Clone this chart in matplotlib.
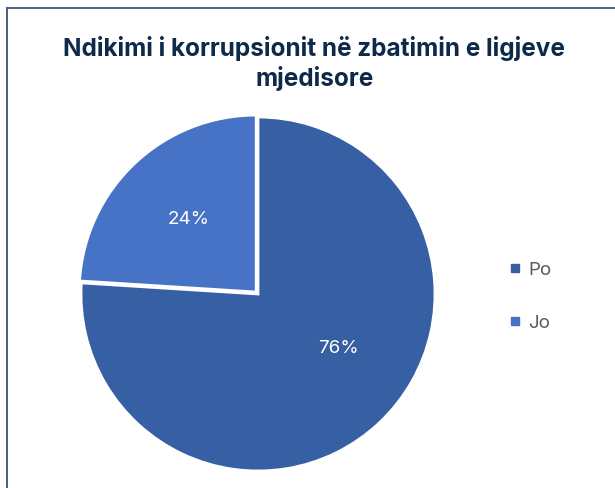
import numpy as np
import matplotlib.pyplot as plt
from matplotlib.lines import Line2D
from matplotlib.patches import Rectangle

plt.rcParams["font.family"] = ["Inter", "DejaVu Sans"]

# data
labels = ["Po", "Jo"]
values = [76, 24]
colors = ["#3660A3", "#4673C5"]
title = "Ndikimi i korrupsionit në zbatimin e ligjeve\nmjedisore"

W, H = 615, 488
fig = plt.figure(figsize=(W / 100, H / 100), dpi=100)

# frame (only top and left edges visible in reference)
fig.patches.append(Rectangle((7 / W, -0.2), 1.2, (H - 8) / H + 0.2,
                             transform=fig.transFigure, fill=False,
                             edgecolor="#4A5E7A", lw=1.4))

cx, cy, r = 258, 294, 177
ax = fig.add_axes([(cx - r) / W, (H - cy - r) / H, 2 * r / W, 2 * r / H])
wedges, texts, autotexts = ax.pie(
    values, colors=colors, startangle=90, counterclock=False,
    explode=[0, 0.015], autopct="%1.0f%%", pctdistance=0.56,
    wedgeprops=dict(edgecolor="white", linewidth=2),
    textprops=dict(color="white", fontsize=13.5))
ax.set_xlim(-1, 1)
ax.set_ylim(-1, 1)
ax.set_aspect("auto")
ax.axis("off")

# Excel "best fit" nudges the big slice's label a bit upward
ang = np.deg2rad(-34)
autotexts[0].set_position((0.55 * np.cos(ang), 0.55 * np.sin(ang)))

fig.text(0.511, 0.869, title, ha="center", va="center", fontsize=17.5,
         fontweight="bold", color="#0E2A4A", linespacing=1.25)

handles = [Line2D([], [], marker="s", linestyle="", markersize=6,
                  markerfacecolor=c, markeredgecolor=c) for c in colors]
fig.legend(handles, labels, loc="center left", bbox_to_anchor=(0.795, 0.392),
           frameon=False, fontsize=13.5, labelcolor="#595959",
           labelspacing=1.9, handletextpad=0.2, handlelength=1.0)

fig.savefig("out.png", dpi=100, facecolor="white")
